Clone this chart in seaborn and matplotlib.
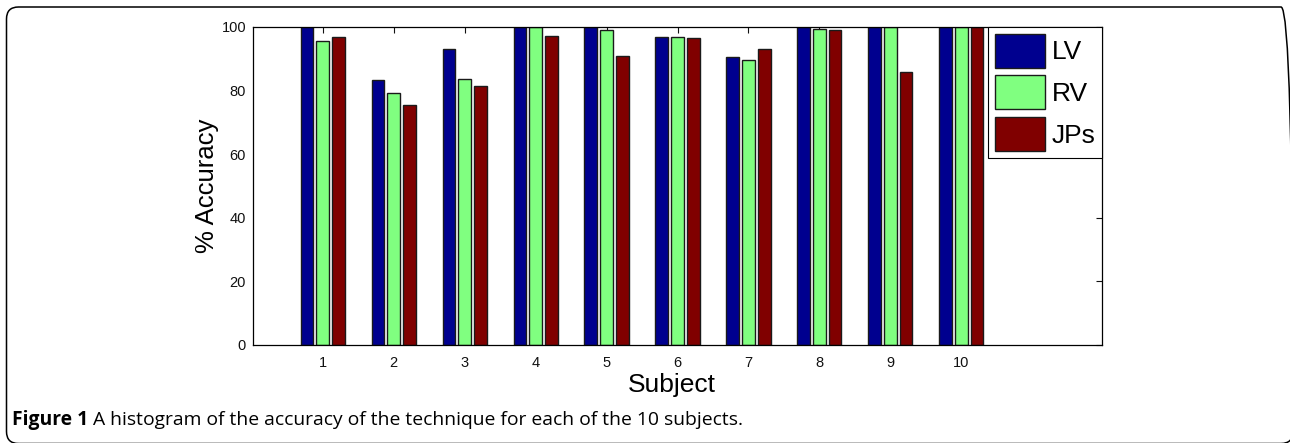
import matplotlib
matplotlib.use("Agg")
import matplotlib.pyplot as plt
import seaborn as sns
import pandas as pd
from matplotlib.patches import FancyBboxPatch
from matplotlib.transforms import IdentityTransform

# ---- data ----
subjects = ["1", "2", "3", "4", "5", "6", "7", "8", "9", "10"]
series = ["LV", "RV", "JPs"]
lv = [100, 83.3, 93.0, 100, 100, 97.0, 90.5, 100, 100, 100]
rv = [95.5, 79.3, 83.6, 100, 99.0, 96.9, 89.6, 99.5, 100, 100]
jps = [96.7, 75.6, 81.4, 97.1, 90.9, 96.5, 93.2, 99.1, 85.9, 100]
yticks = [0, 20, 40, 60, 80, 100]
colors = ["#00008F", "#80FF80", "#800000"]
caption_bold = "Figure 1"
caption_rest = " A histogram of the accuracy of the technique for each of the 10 subjects."

df = pd.DataFrame({
    "Subject": subjects * 3,
    "Accuracy": lv + rv + jps,
    "Series": [s for s in series for _ in subjects],
})

sns.set_theme(style="white")
plt.rcParams["font.family"] = ["Liberation Sans", "DejaVu Sans"]
plt.rcParams["text.color"] = "black"
plt.rcParams["axes.labelcolor"] = "black"

W, H = 1290, 443
fig = plt.figure(figsize=(W / 100, H / 100), dpi=100)
ax = fig.add_axes([253 / W, 1 - 345 / H, (1102 - 253) / W, (345 - 27) / H])

sns.barplot(data=df, x="Subject", y="Accuracy", hue="Series", order=subjects,
            hue_order=series, palette=colors, saturation=1, width=0.66, gap=0.18,
            edgecolor="#1a1a1a", linewidth=1.0, ax=ax)

ax.set_xlim(-0.98, 10.98)
ax.set_ylim(0, 100)
ax.set_yticks(yticks)
ax.set_yticklabels([str(t) for t in yticks])
ax.tick_params(axis="both", direction="in", length=4, width=0.8, top=True, right=True,
               labelsize=10.5, colors="#111111")
ax.tick_params(axis="x", pad=8)
ax.tick_params(axis="y", pad=5)
for sp in ax.spines.values():
    sp.set_color("black")
    sp.set_linewidth(0.9)
    sp.set_visible(True)

ax.set_xlabel("Subject", fontsize=19, color="black")
ax.set_ylabel("% Accuracy", fontsize=18.5, color="black")
ax.xaxis.set_label_coords(0.493, -0.088)
ax.yaxis.set_label_coords(-0.040, 0.5)

handles, labels = ax.get_legend_handles_labels()
leg = ax.legend(handles, labels, loc="upper right", borderaxespad=0, fontsize=19,
                handlelength=1.93, handleheight=1.6, handletextpad=0.23,
                labelspacing=0.3, borderpad=0.25, frameon=True, fancybox=False,
                edgecolor="black", framealpha=1, labelcolor="black")
leg.get_frame().set_linewidth(0.8)

# rounded outer border (pixel coordinates)
box = FancyBboxPatch((6.5, -0.5), 1293 - 6.5, 436 + 0.5,
                     boxstyle="round,pad=0,rounding_size=12",
                     transform=IdentityTransform(), facecolor="none",
                     edgecolor="black", linewidth=1.1, clip_on=False)
fig.patches.append(box)

# caption
cy = 1 - 420 / H
t1 = fig.text(12 / W, cy, caption_bold, fontsize=13.9, fontweight="bold",
              family=["Open Sans", "DejaVu Sans"], va="center", ha="left")
fig.canvas.draw()
bb = t1.get_window_extent()
fig.text(bb.x1 / W, cy, caption_rest, fontsize=13.9,
         family=["Open Sans", "DejaVu Sans"], va="center", ha="left")

fig.savefig("out.png", dpi=100)
